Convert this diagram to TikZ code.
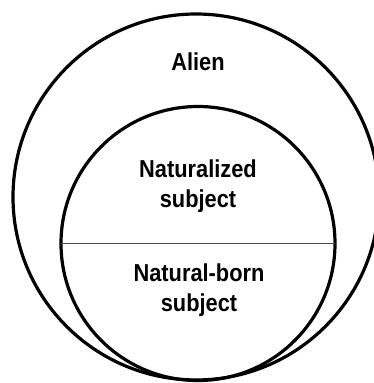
\documentclass[tikz,border=0pt]{standalone}
\usepackage{fontspec}
\setmainfont[FakeStretch=0.89]{Liberation Sans}
\tikzset{
  ring/.style={circle, draw=black, line width=3.2pt, inner sep=0pt, outer sep=0pt},
  divider/.style={draw=black!70, line width=1.2pt},
  label/.style={font=\bfseries\fontsize{24.5}{30}\selectfont, align=center, inner sep=0pt}
}
\begin{document}
\begin{tikzpicture}[x=1pt,y=-1pt]
\useasboundingbox (0,0) rectangle (374,383);
\clip (0,0) rectangle (374,383);
\node[ring, minimum size=366pt] (outer) at (196,197) {};
\node[ring, minimum size=274pt] (inner) at (198,243.5) {};
\draw[divider] (inner.west) -- (inner.east);
\node[label, anchor=base] (alien) at (198,70) {Alien};
\node[label] (nat) at (198,186) {Naturalized\\subject};
\node[label] (born) at (199,290) {Natural-born\\subject};
\end{tikzpicture}
\end{document}
